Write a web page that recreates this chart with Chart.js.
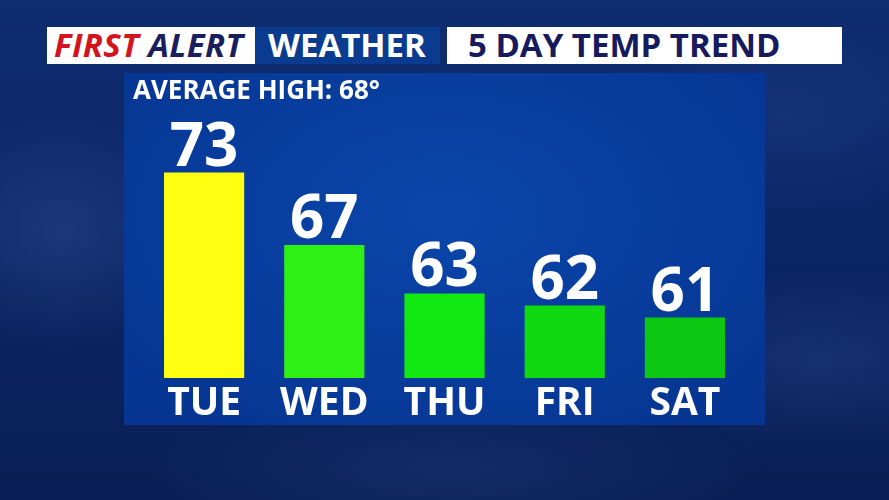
<!DOCTYPE html>
<html>
<head>
<meta charset="utf-8">
<script src="https://cdn.jsdelivr.net/npm/chart.js@4.4.1/dist/chart.umd.min.js"></script>
<style>
  html, body { margin: 0; padding: 0; }
  body {
    width: 889px; height: 500px; overflow: hidden; position: relative;
    font-family: "Open Sans", "DejaVu Sans", sans-serif; font-weight: bold;
    background:
      radial-gradient(ellipse 160px 120px at 60px 230px, rgba(60,90,160,0.35), transparent),
      radial-gradient(ellipse 220px 90px at 820px 360px, rgba(50,80,150,0.3), transparent),
      radial-gradient(ellipse 300px 80px at 450px 470px, rgba(40,70,140,0.3), transparent),
      radial-gradient(ellipse 200px 100px at 780px 120px, rgba(40,75,150,0.25), transparent),
      linear-gradient(180deg, #0f2d72 0%, #0b2462 55%, #0a1f55 100%);
  }
  .hdr { position: absolute; top: 27px; height: 37px; line-height: 37px; font-size: 33px; white-space: nowrap; }
  .hdr > span { position: absolute; top: -1px; }
  #h1 { left: 47px; width: 208px; background: #fff; }
  #h1 > span { left: 7px; font-style: italic; letter-spacing: 0.4px; }
  #h2 { left: 255px; width: 185px; background: #0b3b8e; color: #fff; }
  #h2 > span { left: 13px; }
  #h3 { left: 447px; width: 395px; background: #fff; color: #171a5c; }
  #h3 > span { left: 21px; }
  #panel {
    position: absolute; left: 124px; top: 73px; width: 641px; height: 352px;
    background: radial-gradient(ellipse 420px 260px at 50% 40%, #0a46aa, #063592);
  }
  #avg { position: absolute; left: 9px; top: -2px; color: #fff; font-size: 26px; white-space: nowrap; }
  #wrap { position: absolute; left: 0; top: 0; width: 641px; height: 352px; }
</style>
</head>
<body>
<div class="hdr" id="h1"><span><span style="color:#d3141e">FIRST</span> <span style="color:#1b1e5e">ALERT</span></span></div>
<div class="hdr" id="h2"><span>WEATHER</span></div>
<div class="hdr" id="h3"><span>5 DAY TEMP TREND</span></div>
<div id="panel">
  <div id="wrap"><canvas id="tempChart"></canvas></div>
  <div id="avg">AVERAGE HIGH: 68°</div>
</div>
<script>
// 5 day high temps
const days = ['TUE', 'WED', 'THU', 'FRI', 'SAT'];
const highs = [73, 67, 63, 62, 61];
const barColors = ['#ffff12', '#2ef014', '#12e812', '#10d912', '#0cc812'];

const fontFamily = '"Open Sans", "DejaVu Sans", sans-serif';

// numbers above each bar
const valueLabels = {
  id: 'valueLabels',
  afterDatasetsDraw(chart) {
    const ctx = chart.ctx;
    const meta = chart.getDatasetMeta(0);
    ctx.save();
    ctx.fillStyle = '#ffffff';
    ctx.font = 'bold 60px ' + fontFamily;
    ctx.textAlign = 'center';
    ctx.textBaseline = 'alphabetic';
    meta.data.forEach((bar, i) => {
      ctx.fillText(highs[i], bar.x, bar.y - 7);
    });
    ctx.restore();
  }
};

const ctx = document.getElementById('tempChart').getContext('2d');

const tempChart = new Chart(ctx, {
    type: 'bar',
    data: {
        labels: days,
        datasets: [{
            data: highs,
            backgroundColor: barColors,
            borderWidth: 0,
            barPercentage: 1,
            categoryPercentage: 0.667
        }]
    },
    options: {
        responsive: true,
        maintainAspectRatio: false,
        animation: false,
        layout: { padding: { left: 20, right: 20, top: 15, bottom: 0 } },
        plugins: { legend: { display: false }, tooltip: { enabled: false } },
        scales: {
            x: {
                grid: { display: false, drawTicks: false },
                border: { display: false },
                ticks: { color: 'white', padding: 2, font: { family: fontFamily, size: 39, weight: 'bold' } },
                afterFit: (axis) => { axis.height = 47; }
            },
            y: {
                display: false,
                min: 56,
                max: 80
            }
        }
    },
    plugins: [valueLabels]
});
</script>
</body>
</html>
